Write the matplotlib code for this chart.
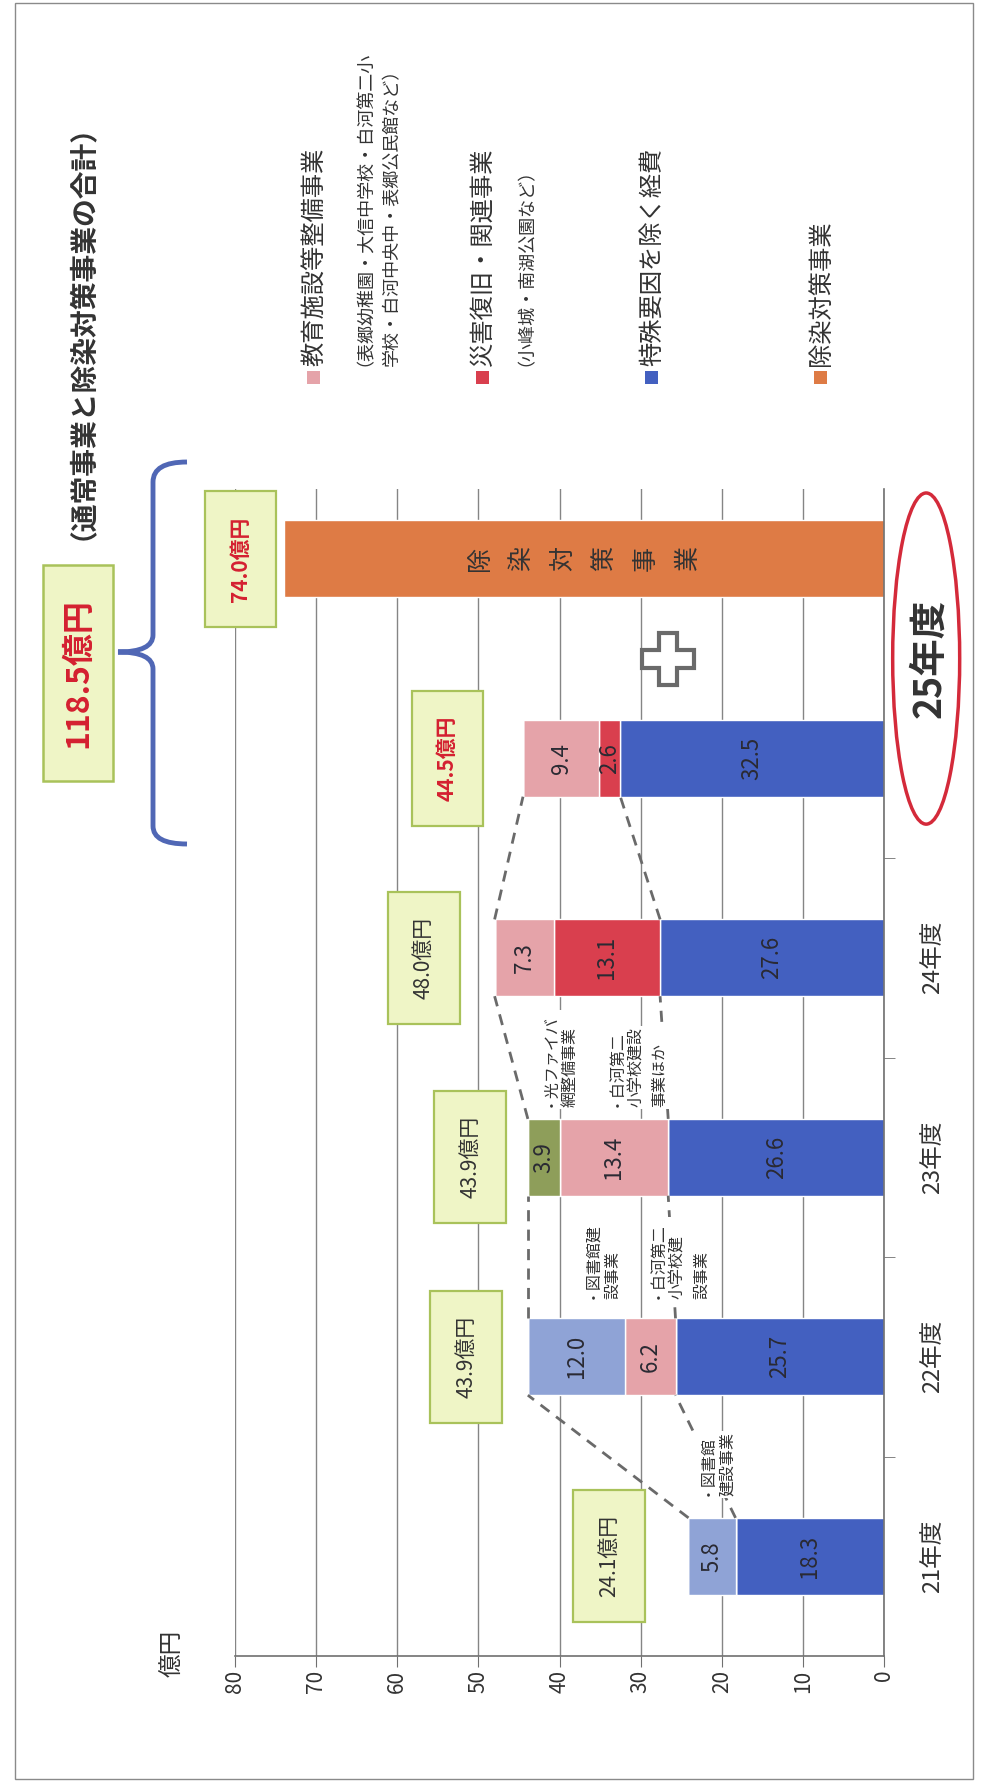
import numpy as np
import matplotlib
matplotlib.use('Agg')
import matplotlib.pyplot as plt
from matplotlib.patches import Ellipse, Rectangle, PathPatch
from matplotlib.path import Path

plt.rcParams['font.family'] = ['Noto Sans CJK JP', 'DejaVu Sans']

# ---------------- data ----------------
categories = ['21年度', '22年度', '23年度', '24年度', '25年度', '25年度']
tokushu = [18.3, 25.7, 26.6, 27.6, 32.5, 0.0]    # 特殊要因を除く経費
saigai = [0.0, 0.0, 0.0, 13.1, 2.6, 0.0]         # 災害復旧・関連事業
kyoiku = [0.0, 6.2, 13.4, 7.3, 9.4, 0.0]         # 教育施設等整備事業
toshokan = [5.8, 12.0, 0.0, 0.0, 0.0, 0.0]       # 図書館建設事業
hikari = [0.0, 0.0, 3.9, 0.0, 0.0, 0.0]          # 光ファイバ網整備事業
josen = [0.0, 0.0, 0.0, 0.0, 0.0, 74.0]          # 除染対策事業
value_ticks = [0, 10, 20, 30, 40, 50, 60, 70, 80]

legend_labels = ['教育施設等整備事業', '災害復旧・関連事業', '特殊要因を除く経費', '除染対策事業']
legend_notes = [['（表郷幼稚園・大信中学校・白河第二小', '学校・白河中央中・表郷公民館など）'],
                ['（小峰城・南湖公園など）'], [], []]
josen_text = '除染対策事業'
title_text = '（通常事業と除染対策事業の合計）'
notes = ['・図書館\n建設事業', '・図書館建\n設事業', '・白河第二\n小学校建\n設事業',
         '・光ファイバ\n網整備事業', '・白河第二\n小学校建設\n事業ほか']

# ---------------- style ----------------
c_blue = '#4360C0'
c_red = '#D93F4E'
c_pink = '#E5A3A9'
c_lblue = '#8FA3D6'
c_green = '#8E9E5A'
c_orange = '#DE7B45'
series = [tokushu, saigai, kyoiku, toshokan, hikari, josen]
colors = [c_blue, c_red, c_pink, c_lblue, c_green, c_orange]

W, H = 981, 1784
fig = plt.figure(figsize=(W / 100, H / 100), dpi=100)
fig.patch.set_facecolor('white')

ax_left, ax_right, ax_top, ax_bot = 235, 884, 489, 1656
ax = fig.add_axes([ax_left / W, (H - ax_bot) / H, (ax_right - ax_left) / W, (ax_bot - ax_top) / H])
ax.set_xlim(80, 0)
ax.set_ylim(-0.5, 5.35)
pos = np.arange(len(categories))
bh = 0.385

# gridlines / value axis
ax.set_xticks(value_ticks)
ax.grid(axis='x', color='#858585', lw=1)
ax.set_axisbelow(True)
for s in ['top', 'left']:
    ax.spines[s].set_visible(False)
for s in ['right', 'bottom']:
    ax.spines[s].set_color('#707070')
    ax.spines[s].set_linewidth(1.2)
ax.tick_params(axis='x', length=8, color='#707070', labelrotation=90, labelsize=15,
               labelcolor='#333333', pad=2)

# stacked bars with value labels
left = np.zeros(len(pos))
for vals, col in zip(series, colors):
    v = np.array(vals)
    ax.barh(pos, v, left=left, height=bh, color=col, edgecolor='white', lw=1, zorder=2)
    for p, val, l in zip(pos, v, left):
        if val > 0 and col != c_orange:
            ax.text(l + val / 2, p, f'{val:.1f}', rotation=90, ha='center', va='center',
                    fontsize=16, color='#2a2a33', zorder=4)
    left = left + v
totals = left

# 除染対策事業 written vertically inside the orange bar
jx = josen[5] / 2
n = len(josen_text)
for i, ch in enumerate(josen_text):
    ax.text(jx - (i - (n - 1) / 2) * 5.13, pos[5], ch, rotation=90,
            ha='center', va='center', fontsize=18, color='#333333', zorder=4)

# category axis
ax.yaxis.tick_right()
ax.set_yticks(pos[:4])
ax.set_yticklabels(categories[:4])
ax.tick_params(axis='y', which='major', length=0, pad=27, labelsize=17, labelcolor='#333333')
for t in ax.get_yticklabels():
    t.set_rotation(90)
    t.set_va('center')
ax.set_yticks([0.5, 1.5, 2.5, 3.5], minor=True)
ax.tick_params(axis='y', which='minor', length=8, color='#707070', direction='out')

# 25年度 label in red ellipse
ax.add_patch(Ellipse((-5.2, 4.5), width=8.26, height=1.66, fill=False, ec='#D42A3A', lw=2.5,
                     clip_on=False, zorder=5))
ax.text(-5.55, 4.5, categories[4], rotation=90, fontsize=27, weight='bold', ha='center',
        va='center', color='#333333', clip_on=False, zorder=5)

# plus sign
ax.plot(26.6, 4.5, marker='P', ms=37, mfc='white', mec='#6a6a6a', mew=3, zorder=5, clip_on=False)

# dashed connectors between consecutive bars
for i in range(4):
    y0 = pos[i] + bh / 2
    y1 = pos[i + 1] - bh / 2
    ax.plot([totals[i], totals[i + 1]], [y0, y1], ls=(0, (4, 3)), color='#6a6a6a', lw=2, zorder=3)
    ax.plot([tokushu[i], tokushu[i + 1]], [y0, y1], ls=(0, (4, 3)), color='#6a6a6a', lw=2, zorder=3)

# notes between bars
note_pos = [(20.7, 0.30), (34.9, 1.29), (25.4, 1.29), (40.1, 2.25), (30.5, 2.25)]
for txt, (x, y) in zip(notes, note_pos):
    ax.text(x, y, txt, rotation=90, ha='center', va='bottom', multialignment='left',
            fontsize=11.5, color='#333333', linespacing=1.5, zorder=4,
            bbox=dict(boxstyle='square,pad=0.1', fc='white', ec='none'))

# total boxes
box_off = [9.8, 7.6, 7.1, 8.7, 9.3, 5.3]
box_red = [False, False, False, False, True, True]
for p, t, off, red in zip(pos, totals, box_off, box_red):
    ax.text(t + off, p, f'{t:.1f}億円', rotation=90, ha='center', va='center', fontsize=15,
            color='#D42030' if red else '#333333', weight='bold' if red else 'normal', zorder=6,
            bbox=dict(boxstyle='square,pad=1.2', fc='#EFF5C6', ec='#A9C25A', lw=1.6))

# ---------------- overlay (page decorations, pixel coordinates) ----------------
ov = fig.add_axes([0, 0, 1, 1])
ov.set_xlim(0, W)
ov.set_ylim(H, 0)
ov.axis('off')
ov.patch.set_alpha(0)


def vtext(xc, ystart, s, size, **kw):
    """rotated text: glyph centre at xc, reading upward from ystart (pixels)"""
    em = size * 100 / 72
    shift = 0.6 * em if s.startswith('（') else 0.0
    ov.text(xc + 0.37 * em - shift, ystart, s, rotation=90, rotation_mode='anchor',
            fontsize=size, ha='left', va='baseline', color='#333333', **kw)


ov.add_patch(Rectangle((15, 3), 958, 1776, fill=False, ec='#8a8a8a', lw=1))
vtext(83, 540, title_text, 20, weight='bold')

grand = totals[4] + totals[5]
ov.add_patch(Rectangle((43, 565), 70, 216, fc='#EFF5C6', ec='#A9C25A', lw=1.8))
ov.text(78, 673, f'{grand:.1f}億円', rotation=90, fontsize=23, weight='bold', ha='center',
        va='center', color='#D42030')

# curly brace
verts = [(187, 462), (153, 462), (153, 482), (153, 635), (153, 652), (118, 652),
         (153, 652), (153, 669), (153, 826), (153, 844), (187, 844)]
codes = [Path.MOVETO, Path.CURVE3, Path.CURVE3, Path.LINETO, Path.CURVE3, Path.CURVE3,
         Path.CURVE3, Path.CURVE3, Path.LINETO, Path.CURVE3, Path.CURVE3]
ov.add_patch(PathPatch(Path(verts, codes), fill=False, ec='#5067B5', lw=3.5))

vtext(171, 1677, '億円', 17)

# legend
leg_x = [312, 481, 650, 819]
leg_cols = [c_pink, c_red, c_blue, c_orange]
for x, lab, col, sub in zip(leg_x, legend_labels, leg_cols, legend_notes):
    ov.add_patch(Rectangle((x - 5, 371), 13, 13, fc=col, ec='none'))
    vtext(x, 366, lab, 17.5)
    for k, s in enumerate(sub):
        sx = x + 45 if len(sub) == 1 else x + 53 + 25 * k
        vtext(sx, 366, s, 13)

fig.savefig('out.png', dpi=100, facecolor='white')
